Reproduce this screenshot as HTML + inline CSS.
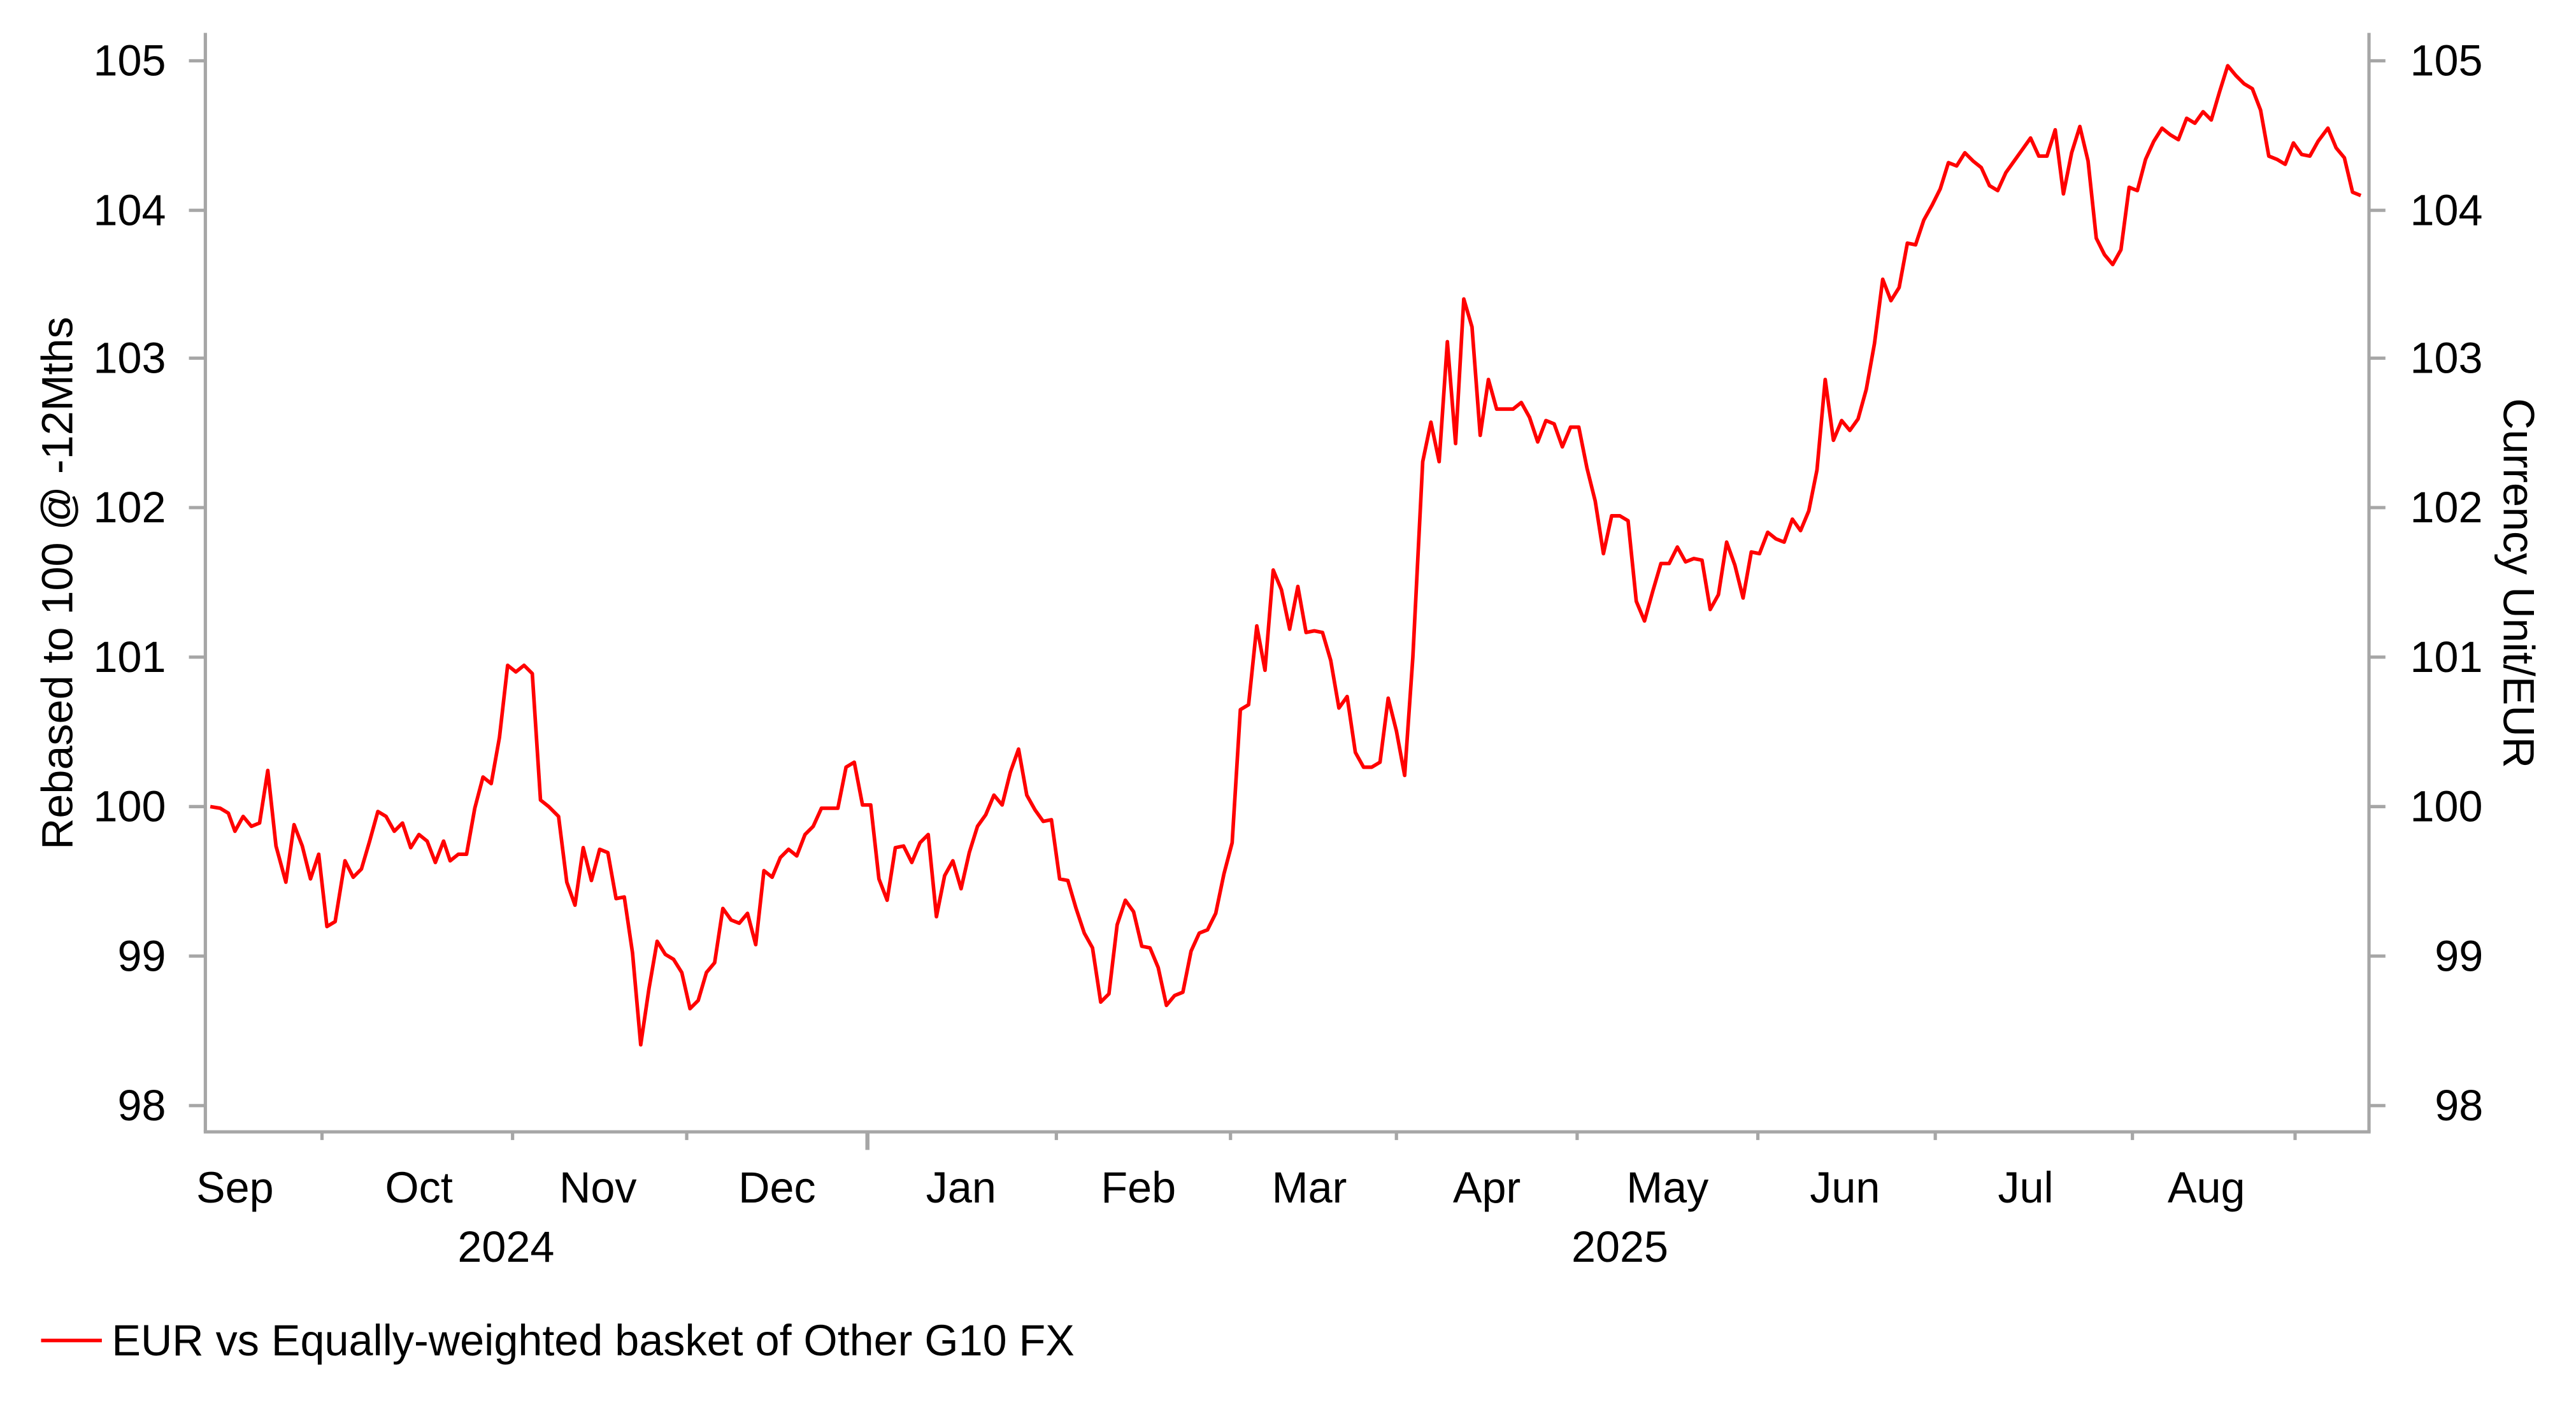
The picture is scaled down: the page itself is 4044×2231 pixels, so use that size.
<!DOCTYPE html>
<html><head><meta charset="utf-8"><style>html,body{margin:0;padding:0;background:#fff}svg{display:block}</style></head>
<body>
<svg width="4044" height="2231" viewBox="0 0 1568 865" xmlns="http://www.w3.org/2000/svg" font-family="Liberation Sans, Arial, sans-serif" font-size="26.5" fill="#000">
<g stroke="#a6a6a6" stroke-width="2" fill="none">
<line x1="125" y1="20" x2="125" y2="689"/>
<line x1="1442" y1="20" x2="1442" y2="689"/>
<line x1="124" y1="689" x2="1443" y2="689"/>
<path d="M115 37H125M115 128H125M115 218H125M115 309H125M115 400H125M115 491H125M115 582H125M115 673H125"/>
<path d="M1442 37H1452M1442 128H1452M1442 218H1452M1442 309H1452M1442 400H1452M1442 491H1452M1442 582H1452M1442 673H1452"/>
<path d="M196 689V694M312 689V694M418 689V694M643 689V694M749 689V694M850 689V694M960 689V694M1070 689V694M1178 689V694M1298 689V694M1397 689V694"/>
<path d="M528 689V700" stroke-width="2.5"/>
</g>
<g text-anchor="end">
<text x="101" y="46">105</text><text x="101" y="137">104</text><text x="101" y="227">103</text><text x="101" y="318">102</text><text x="101" y="409">101</text><text x="101" y="500">100</text><text x="101" y="591">99</text><text x="101" y="682">98</text>
</g>
<g text-anchor="start">
<text x="1467" y="46">105</text><text x="1467" y="137">104</text><text x="1467" y="227">103</text><text x="1467" y="318">102</text><text x="1467" y="409">101</text><text x="1467" y="500">100</text><text x="1482" y="591">99</text><text x="1482" y="682">98</text>
</g>
<g text-anchor="middle">
<text x="143" y="732">Sep</text><text x="255" y="732">Oct</text><text x="364" y="732">Nov</text><text x="473" y="732">Dec</text><text x="585" y="732">Jan</text><text x="693" y="732">Feb</text><text x="797" y="732">Mar</text><text x="905" y="732">Apr</text><text x="1015" y="732">May</text><text x="1123" y="732">Jun</text><text x="1233" y="732">Jul</text><text x="1343" y="732">Aug</text>
<text x="308" y="768">2024</text><text x="986" y="768">2025</text>
<text transform="translate(44,355) rotate(-90)">Rebased to 100 @ -12Mths</text>
<text transform="translate(1524,355) rotate(90)">Currency Unit/EUR</text>
</g>
<line x1="25" y1="816" x2="62" y2="816" stroke="#ff0000" stroke-width="2.2"/>
<text x="68" y="825">EUR vs Equally-weighted basket of Other G10 FX</text>
<polyline fill="none" stroke="#ff0000" stroke-width="2.2" stroke-linejoin="round" points="128,491 134,492 139,495 143,506 148,497 153,503 158,501 163,469 168,515 174,537 179,502 184,515 189,535 194,520 199,564 204,561 210,524 215,534 220,529 225,512 230,494 235,497 240,506 245,501 250,516 255,508 260,512 265,525 270,512 274,524 279,520 284,520 289,492 294,473 299,477 304,449 309,405 314,409 319,405 324,410 329,487 334,491 340,497 345,537 350,551 355,516 360,536 365,517 370,519 375,547 380,546 385,580 390,636 395,602 400,573 405,581 410,584 415,592 420,614 425,609 430,592 435,586 440,553 445,560 450,562 455,556 460,575 465,530 470,534 475,522 480,517 485,521 490,508 495,503 500,492 505,492 510,492 515,467 520,464 525,490 530,490 535,535 540,548 545,516 550,515 555,525 560,513 565,508 570,558 575,533 580,524 585,541 590,519 595,503 600,496 605,484 610,490 615,470 620,456 625,484 630,493 635,500 640,499 645,535 650,536 655,553 660,568 665,577 670,610 675,605 680,563 685,548 690,555 695,576 700,577 705,589 710,612 715,606 720,604 725,579 730,568 735,566 740,556 745,532 750,513 755,432 760,429 765,381 770,408 775,347 780,359 785,383 790,357 795,385 800,384 805,385 810,402 815,431 820,424 825,458 830,467 835,467 840,464 845,425 850,445 855,472 860,400 866,281 871,257 876,281 881,208 886,270 891,182 896,199 901,265 906,231 911,249 916,249 921,249 926,245 931,254 936,269 941,256 946,258 951,272 956,260 961,260 966,285 971,305 976,337 981,314 986,314 991,317 996,366 1001,378 1006,360 1011,343 1016,343 1021,333 1026,342 1031,340 1036,341 1041,371 1046,362 1051,330 1056,344 1061,364 1066,336 1071,337 1076,324 1081,328 1086,330 1091,316 1096,323 1101,311 1106,286 1111,231 1116,268 1121,256 1126,262 1131,255 1136,237 1141,209 1146,170 1151,183 1156,175 1161,148 1166,149 1171,134 1176,125 1181,115 1186,99 1191,101 1196,93 1201,98 1206,102 1211,113 1216,116 1221,105 1226,98 1231,91 1236,84 1241,95 1246,95 1251,79 1256,118 1261,93 1266,77 1271,98 1276,145 1281,155 1286,161 1291,152 1296,114 1301,116 1306,97 1311,86 1316,78 1321,82 1326,85 1331,72 1336,75 1341,68 1346,73 1351,56 1356,40 1361,46 1366,51 1371,54 1376,67 1381,95 1386,97 1391,100 1396,87 1401,94 1406,95 1411,86 1417,78 1422,90 1427,96 1432,117 1437,119"/>
</svg>
</body></html>
